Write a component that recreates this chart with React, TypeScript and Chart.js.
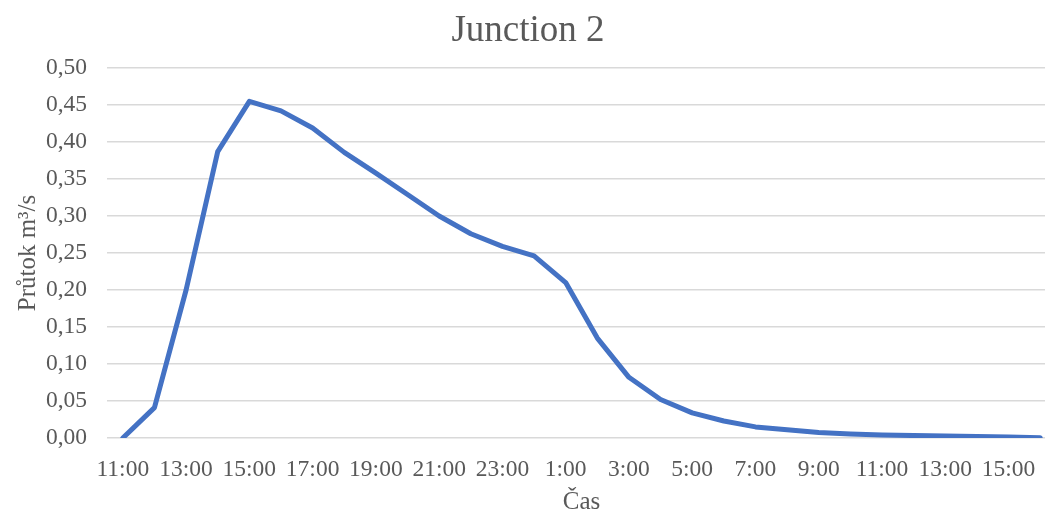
import React, { useEffect, useRef } from "react";
import { Chart, registerables } from "chart.js";

Chart.register(...registerables);

const categories: string[] = [
  "11:00", "12:00", "13:00", "14:00", "15:00", "16:00", "17:00", "18:00", "19:00", "20:00",
  "21:00", "22:00", "23:00", "0:00", "1:00", "2:00", "3:00", "4:00", "5:00", "6:00",
  "7:00", "8:00", "9:00", "10:00", "11:00", "12:00", "13:00", "14:00", "15:00", "16:00",
];

const flowValues: number[] = [
  0.0, 0.041, 0.2, 0.387, 0.455, 0.442, 0.419, 0.386, 0.358, 0.329,
  0.3, 0.276, 0.259, 0.246, 0.21, 0.135, 0.082, 0.052, 0.034, 0.023,
  0.015, 0.011, 0.0075, 0.0055, 0.0042, 0.0033, 0.0026, 0.002, 0.0015, 0.0005,
];

const titleText = "Junction 2";
const yTitle = "Průtok m³/s";
const xTitle = "Čas";

const FONT = "'Liberation Serif', 'Times New Roman', serif";
const TEXT = "#595959";
const GRID = "#d9d9d9";

export default function App() {
  const ref = useRef<HTMLCanvasElement | null>(null);

  useEffect(() => {
    if (!ref.current) return;
    const chart = new Chart(ref.current, {
      type: "line",
      data: {
        labels: categories,
        datasets: [
          {
            data: flowValues,
            borderColor: "#4472C4",
            backgroundColor: "#4472C4",
            borderWidth: 5,
            pointRadius: 0,
            tension: 0,
            borderJoinStyle: "round",
            borderCapStyle: "round",
          },
        ],
      },
      options: {
        animation: false,
        responsive: false,
        layout: { padding: { left: 0, right: 4, top: 0, bottom: 0 } },
        plugins: {
          legend: { display: false },
          tooltip: { enabled: false },
          title: {
            display: true,
            text: titleText,
            color: TEXT,
            font: { family: FONT, size: 37, weight: "normal" },
            padding: { top: 9, bottom: 14.6 },
          },
        },
        scales: {
          x: {
            type: "category",
            offset: true,
            grid: { display: false, drawTicks: false },
            border: { display: false },
            ticks: {
              autoSkip: false,
              maxRotation: 0,
              minRotation: 0,
              padding: 18,
              color: TEXT,
              font: { family: FONT, size: 23.5 },
              callback: (_v: any, i: number) => (i % 2 === 0 ? categories[i] : ""),
            },
            title: {
              display: true,
              text: xTitle,
              color: TEXT,
              font: { family: FONT, size: 25 },
              padding: { top: 0, bottom: -4 },
            },
            afterFit: (s: any) => {
              s.height = 75;
            },
          },
          y: {
            min: 0,
            max: 0.5,
            grid: { color: GRID, lineWidth: 1.5, drawTicks: false },
            border: { display: false },
            ticks: {
              stepSize: 0.05,
              padding: 20,
              color: TEXT,
              font: { family: FONT, size: 23.5 },
              callback: (v: any) => Number(v).toFixed(2).replace(".", ","),
            },
            title: {
              display: true,
              text: yTitle,
              color: TEXT,
              font: { family: FONT, size: 25 },
              padding: { top: 13, bottom: 0 },
            },
            afterFit: (s: any) => {
              s.width = 107;
            },
          },
        },
      },
    });
    return () => chart.destroy();
  }, []);

  return (
    <div
      style={{
        position: "fixed",
        left: 0,
        top: 0,
        width: 1045,
        height: 513,
        overflow: "hidden",
        background: "#ffffff",
      }}
    >
      <canvas ref={ref} width={1060} height={513} style={{ display: "block" }} />
    </div>
  );
}
